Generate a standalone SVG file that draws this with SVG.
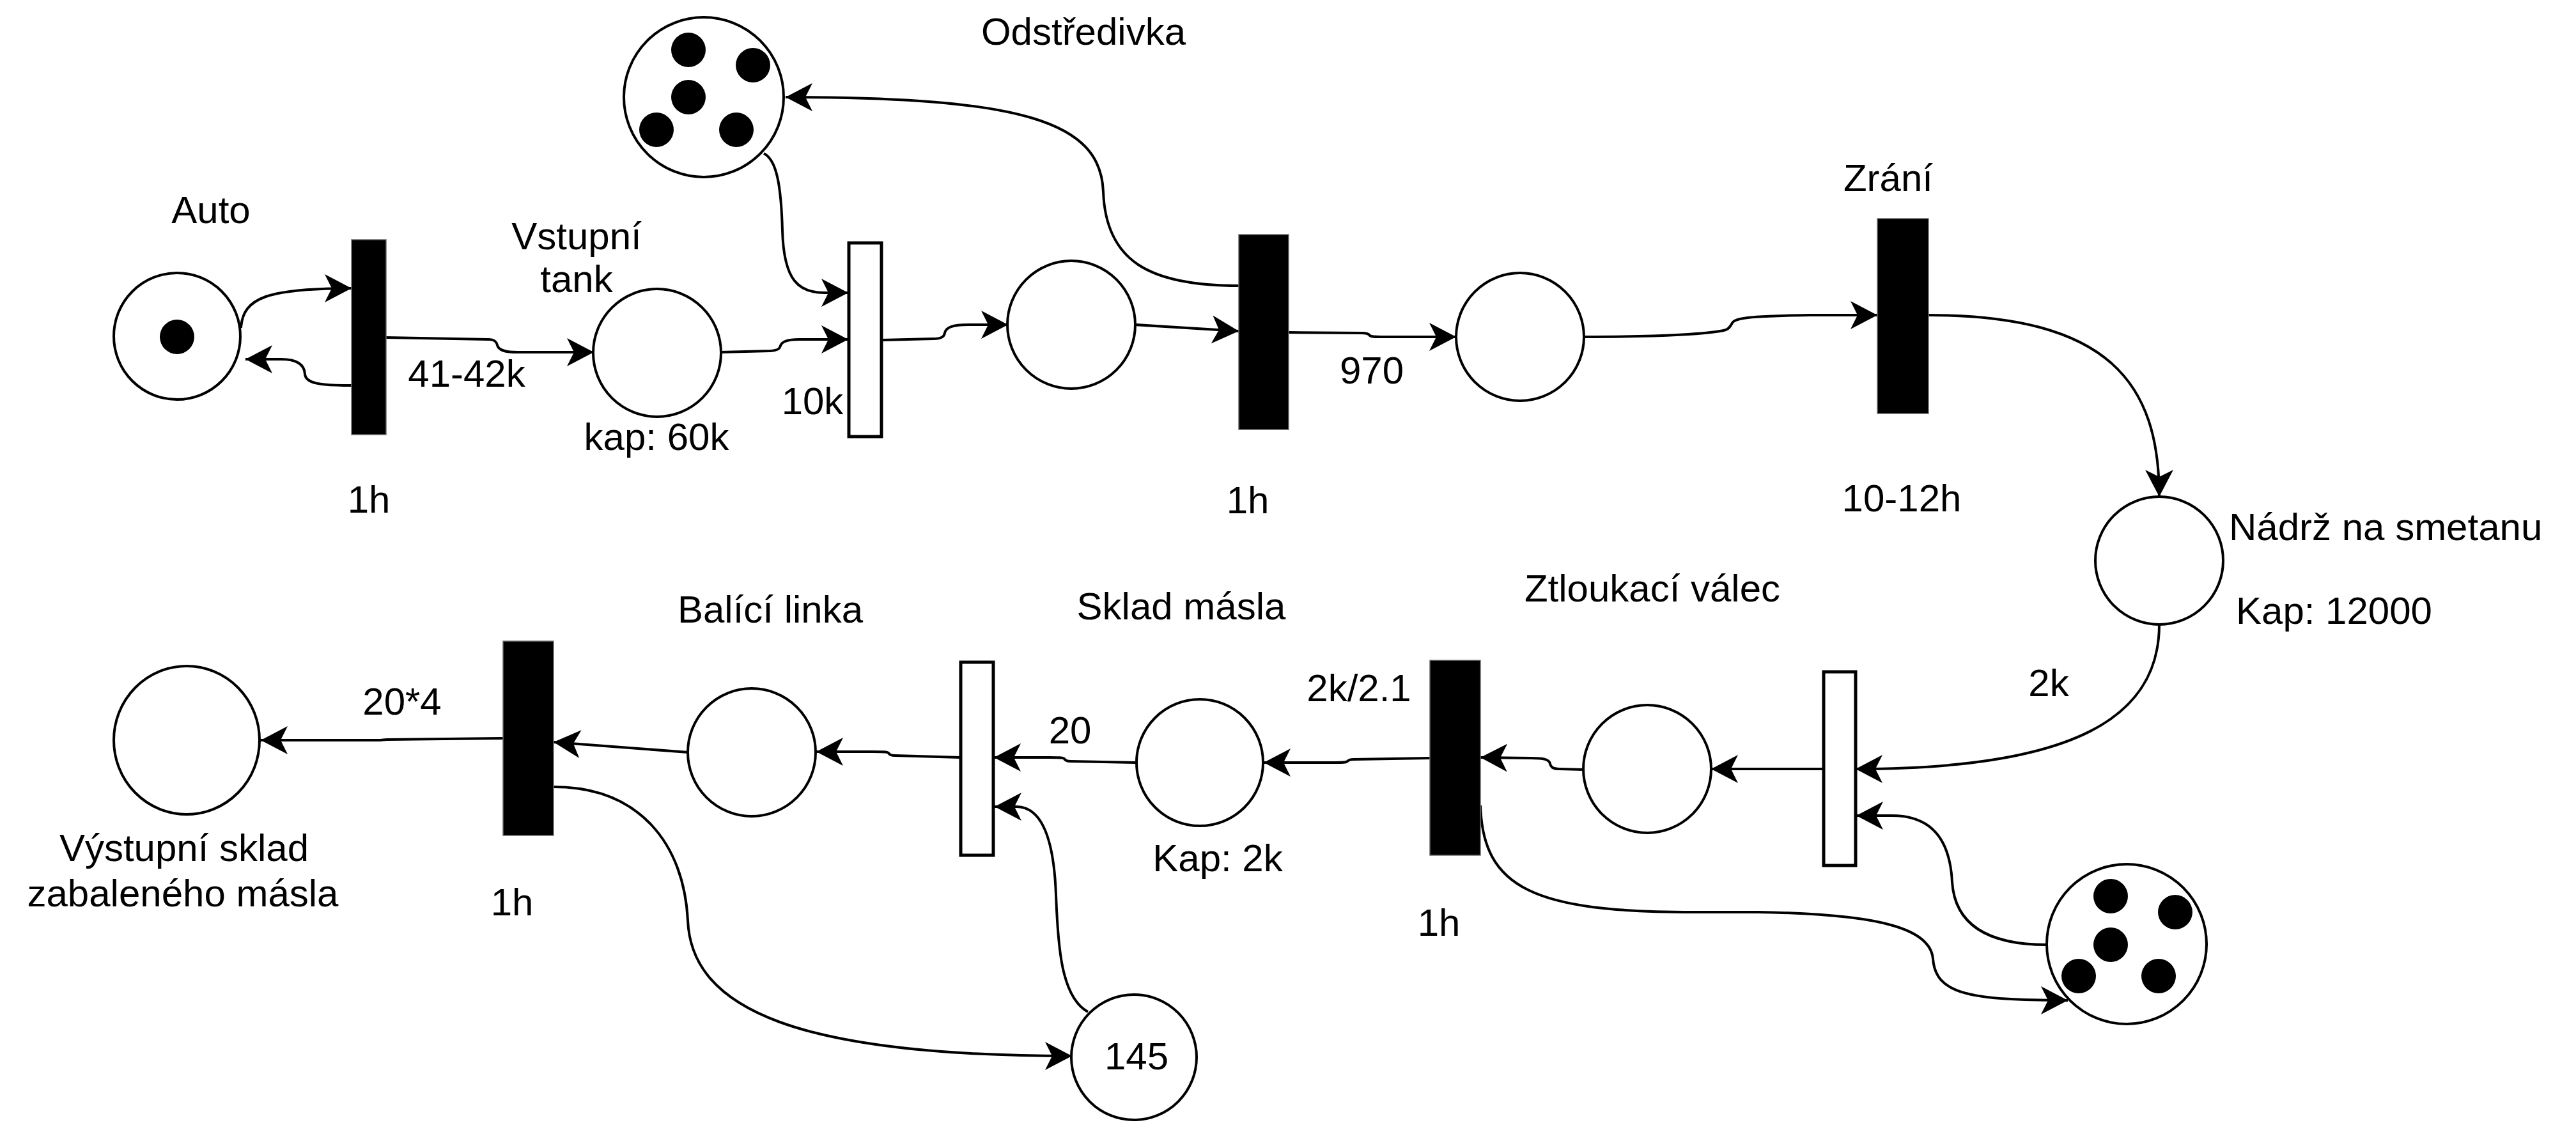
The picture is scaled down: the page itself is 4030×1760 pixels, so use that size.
<svg xmlns="http://www.w3.org/2000/svg" width="4030" height="1760" viewBox="0 0 4030 1760">
<style>
.pl{fill:#fff;stroke:#000;stroke-width:4}
.tk{fill:#000}
.tb{fill:#000;stroke:#6b6b6b;stroke-width:1.5}
.tw{fill:#fff;stroke:#000;stroke-width:5}
.e{fill:none;stroke:#000;stroke-width:4;marker-end:url(#arr)}
text{font-family:"Liberation Sans",Arial,Helvetica,sans-serif;font-size:60px;fill:#000}
.m{text-anchor:middle}
</style>
<defs>
<marker id="arr" markerUnits="userSpaceOnUse" markerWidth="44" markerHeight="46" viewBox="0 0 44 46" refX="42" refY="23" orient="auto">
<path d="M0,1 L42,23 L0,45 L11,23 Z" fill="#000"/>
</marker>
</defs>
<rect width="4030" height="1760" fill="#fff"/>

<g id="connectors">
<path class="e" d="M377,513 C380,465 420,451 550,451"/>
<path class="e" d="M550,603 C500,603 478,600 477,585 C476,570 465,562 440,562 L384,562"/>
<path class="e" d="M604,528 L765,531 C775,531 777,536 778,540 C780,548 790,551 810,551 L929,551"/>
<path class="e" d="M1127,551 L1205,549 C1218,548 1220,545 1221,541 C1223,534 1233,531 1250,531 L1327,531"/>
<path class="e" d="M1195,240 C1215,250 1222,290 1224,360 C1226,440 1250,458 1290,458 L1327,458"/>
<path class="e" d="M1379,532 L1460,530 C1474,530 1477,526 1478,521 C1480,512 1490,508 1515,508 L1577,508"/>
<path class="e" d="M1776,508 L1938,518"/>
<path class="e" d="M1938,447 C1800,447 1730,410 1726,300 C1722,190 1600,152 1229,152"/>
<path class="e" d="M2016,520 L2130,521 C2140,521 2142,523 2143,525 C2145,527 2150,527 2160,527 L2278,527"/>
<path class="e" d="M2478,527 C2600,527 2680,522 2700,516 C2708,513 2708,506 2712,503 C2720,496 2760,494 2830,493 L2937,493"/>
<path class="e" d="M3017,493 C3300,493 3378,600 3378,777"/>
<path class="e" d="M3378,977 C3378,1120 3250,1203 2903,1203"/>
<path class="e" d="M2853,1203 L2677,1203"/>
<path class="e" d="M2477,1204 L2440,1203 C2428,1203 2426,1199 2425,1195 C2424,1188 2415,1186 2395,1186 L2316,1185"/>
<path class="e" d="M2237,1186 L2118,1188 C2110,1188 2109,1190 2108,1191 C2106,1193 2100,1193 2090,1193 L1977,1193"/>
<path class="e" d="M1776,1193 L1675,1191 C1668,1191 1666,1189 1665,1187 C1663,1185 1655,1185 1640,1185 L1555,1185"/>
<path class="e" d="M1503,1185 L1400,1182 C1393,1182 1391,1180 1390,1178 C1388,1176 1380,1176 1365,1176 L1277,1176"/>
<path class="e" d="M1077,1177 L866,1161"/>
<path class="e" d="M787,1155 L605,1157 C600,1157 598,1158 590,1158 L408,1158"/>
<path class="e" d="M866,1231 C1000,1231 1070,1320 1076,1440 C1082,1580 1250,1652 1677,1652"/>
<path class="e" d="M1702,1583 C1660,1560 1655,1480 1652,1400 C1648,1290 1620,1262 1590,1262 L1556,1262"/>
<path class="e" d="M2316,1260 C2320,1390 2400,1427 2650,1427 L2750,1427 C2950,1430 3020,1455 3024,1500 C3028,1555 3080,1565 3235,1565"/>
<path class="e" d="M3202,1478 C3100,1478 3058,1440 3054,1380 C3050,1300 3010,1276 2960,1276 L2904,1276"/>
</g>

<g id="place-auto">
<circle class="pl" cx="277" cy="526" r="99"/>
<circle class="tk" cx="277" cy="527" r="27"/>
<text class="m" x="330" y="349">Auto</text>
</g>
<g id="trans-auto">
<rect class="tb" x="550" y="375" width="54" height="305"/>
<text class="m" x="577" y="802">1h</text>
<text class="m" x="730" y="605">41-42k</text>
</g>
<g id="place-vstupni-tank">
<circle class="pl" cx="1028" cy="552" r="100"/>
<text class="m" x="902" y="390">Vstupní</text>
<text class="m" x="902" y="457">tank</text>
<text class="m" x="1027" y="704">kap: 60k</text>
</g>
<g id="place-odstredivka">
<circle class="pl" cx="1101" cy="152" r="125"/>
<circle class="tk" cx="1077" cy="78" r="27"/>
<circle class="tk" cx="1178" cy="102" r="27"/>
<circle class="tk" cx="1077" cy="152" r="27"/>
<circle class="tk" cx="1027" cy="203" r="27"/>
<circle class="tk" cx="1152" cy="203" r="27"/>
<text class="m" x="1695" y="70">Odstředivka</text>
</g>
<g id="trans-10k">
<rect class="tw" x="1328" y="380" width="51" height="303"/>
<text class="m" x="1271" y="648">10k</text>
</g>
<g id="place-3">
<circle class="pl" cx="1676" cy="508" r="100"/>
</g>
<g id="trans-odstredivka">
<rect class="tb" x="1938" y="367" width="78" height="305"/>
<text class="m" x="1952" y="803">1h</text>
<text class="m" x="2146" y="600">970</text>
</g>
<g id="place-4">
<circle class="pl" cx="2378" cy="527" r="100"/>
</g>
<g id="trans-zrani">
<rect class="tb" x="2937" y="342" width="80" height="305"/>
<text class="m" x="2954" y="299">Zrání</text>
<text class="m" x="2975" y="800">10-12h</text>
</g>
<g id="place-nadrz">
<circle class="pl" cx="3378" cy="877" r="100"/>
<text x="3487" y="845">Nádrž na smetanu</text>
<text x="3498" y="976">Kap: 12000</text>
</g>
<g id="trans-valve-1">
<rect class="tw" x="2853" y="1051" width="50" height="303"/>
<text class="m" x="3205" y="1089">2k</text>
</g>
<g id="place-tokens-2">
<circle class="pl" cx="3327" cy="1477" r="125"/>
<circle class="tk" cx="3302" cy="1402" r="27"/>
<circle class="tk" cx="3403" cy="1427" r="27"/>
<circle class="tk" cx="3302" cy="1478" r="27"/>
<circle class="tk" cx="3252" cy="1527" r="27"/>
<circle class="tk" cx="3377" cy="1527" r="27"/>
</g>
<g id="place-pre-ztl">
<circle class="pl" cx="2577" cy="1203" r="100"/>
</g>
<g id="trans-ztloukaci">
<rect class="tb" x="2237" y="1033" width="79" height="305"/>
<text class="m" x="2585" y="941">Ztloukací válec</text>
<text class="m" x="2251" y="1464">1h</text>
<text class="m" x="2126" y="1097">2k/2.1</text>
</g>
<g id="place-sklad">
<circle class="pl" cx="1877" cy="1193" r="99"/>
<text class="m" x="1848" y="969">Sklad másla</text>
<text class="m" x="1905" y="1363">Kap: 2k</text>
</g>
<g id="trans-valve-2">
<rect class="tw" x="1503" y="1036" width="51" height="302"/>
<text class="m" x="1674" y="1163">20</text>
</g>
<g id="place-145">
<circle class="pl" cx="1774" cy="1654" r="98"/>
<text class="m" x="1778" y="1673">145</text>
</g>
<g id="place-balici">
<circle class="pl" cx="1176" cy="1177" r="100"/>
<text class="m" x="1205" y="974">Balící linka</text>
</g>
<g id="trans-balici">
<rect class="tb" x="787" y="1003" width="79" height="304"/>
<text class="m" x="801" y="1432">1h</text>
<text class="m" x="629" y="1118">20*4</text>
</g>
<g id="place-vystup">
<ellipse class="pl" cx="292" cy="1158" rx="114" ry="116"/>
<text class="m" x="288" y="1347">Výstupní sklad</text>
<text class="m" x="286" y="1418">zabaleného másla</text>
</g>
</svg>
